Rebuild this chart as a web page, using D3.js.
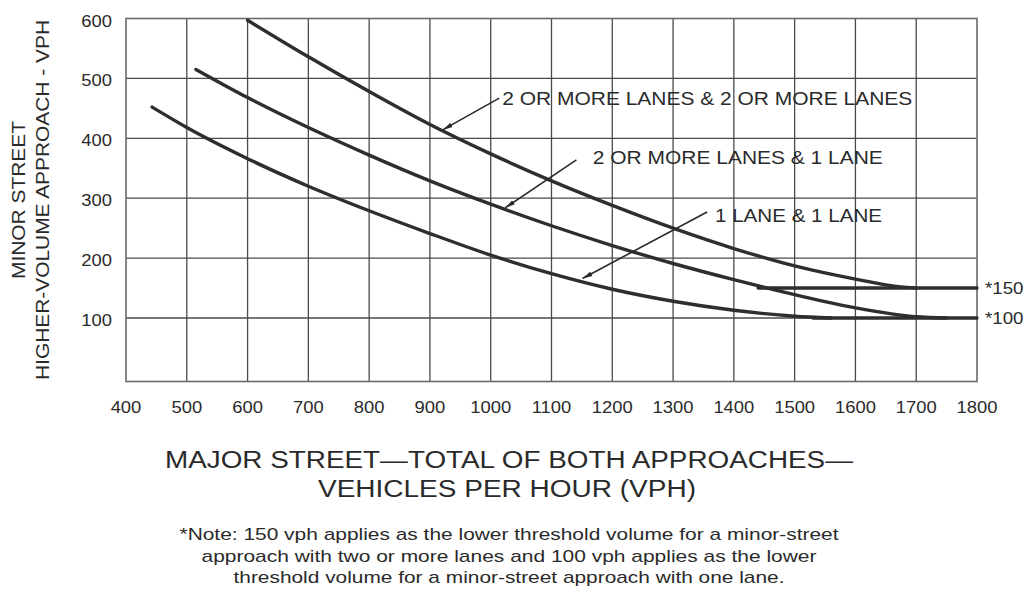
<!DOCTYPE html>
<html>
<head>
<meta charset="utf-8">
<title>Peak hour warrant</title>
<script src="https://cdn.jsdelivr.net/npm/d3@7/dist/d3.min.js"></script>
<style>
  body { margin: 0; background: #fff; }
  svg { display: block; }
  text { font-family: "Liberation Sans", Arial, sans-serif; fill: #2a2a2a; }
</style>
</head>
<body>
<div id="chart"></div>
<script>
// values (major street vph, minor street vph)
var twoAndTwo = [[600, 597], [700, 536], [800, 478], [900, 423], [1000, 374], [1100, 329],
                 [1200, 288], [1300, 250], [1400, 216], [1500, 187], [1600, 165], [1675, 152], [1700, 150]];
var twoAndOne = [[515, 515], [600, 468], [700, 418], [800, 372], [900, 329], [1000, 290], [1100, 254],
                 [1200, 221], [1300, 191], [1400, 164], [1500, 139], [1600, 117], [1700, 102], [1750, 100]];
var oneAndOne = [[443, 452], [500, 418], [600, 366], [700, 320], [800, 279], [900, 241], [1000, 205],
                 [1100, 174], [1200, 148], [1300, 128], [1400, 113], [1500, 103], [1560, 100]];
var floor150 = [[1440, 150], [1800, 150]];
var floor100 = [[1530, 100], [1800, 100]];

var xTicks = [400, 500, 600, 700, 800, 900, 1000, 1100, 1200, 1300, 1400, 1500, 1600, 1700, 1800];
var yTicks = [100, 200, 300, 400, 500, 600];
var floorLabels = ["*150", "*100"];
var floorValues = [150, 100];

// callouts: label text, where the text starts, where the arrow starts and ends (data units)
var calloutText = ["2 OR MORE LANES & 2 OR MORE LANES", "2 OR MORE LANES & 1 LANE", "1 LANE & 1 LANE"];
var calloutAt   = [[1019, 456], [1168, 357], [1369, 260]];
var arrowFrom   = [[1014, 467], [1141, 364], [1356, 277]];
var arrowTo     = [[921, 414], [1024, 284], [1151, 166]];

var width = 1028, height = 592;

var svg = d3.select("#chart").append("svg")
    .attr("width", width)
    .attr("height", height);

var x = d3.scaleLinear().domain([400, 1800]).range([126, 977]);
var y = d3.scaleLinear().domain([-6, 600]).range([381.5, 18.5]);

// stretch text to a given width, like the scanned figure
function fit(sel, w) {
  sel.attr("textLength", w).attr("lengthAdjust", "spacingAndGlyphs");
}
function widen(sel, k) {
  sel.each(function () {
    var len = this.getComputedTextLength();
    d3.select(this).attr("textLength", len * k).attr("lengthAdjust", "spacingAndGlyphs");
  });
}

svg.append("defs").append("marker")
    .attr("id", "head")
    .attr("viewBox", "0 0 10 6")
    .attr("refX", 10)
    .attr("refY", 3)
    .attr("markerWidth", 10)
    .attr("markerHeight", 6)
    .attr("markerUnits", "userSpaceOnUse")
    .attr("orient", "auto")
  .append("path")
    .attr("d", "M0,0.6L10,3L0,5.4Z")
    .attr("fill", "#2a2a2a");

// grid
var grid = svg.append("g").attr("stroke", "#4a4a4a").attr("stroke-width", 1.3);
grid.selectAll("line.v")
    .data(xTicks.slice(1, -1))
  .enter().append("line")
    .attr("x1", function (d) { return x(d); })
    .attr("x2", function (d) { return x(d); })
    .attr("y1", y(600))
    .attr("y2", y(-6));
grid.selectAll("line.h")
    .data(yTicks.slice(0, -1))
  .enter().append("line")
    .attr("x1", x(400))
    .attr("x2", x(1800))
    .attr("y1", function (d) { return y(d); })
    .attr("y2", function (d) { return y(d); });

svg.append("rect")
    .attr("x", x(400))
    .attr("y", y(600))
    .attr("width", x(1800) - x(400))
    .attr("height", y(-6) - y(600))
    .attr("fill", "none")
    .attr("stroke", "#6a6a6a")
    .attr("stroke-width", 1.6);

// tick labels
svg.selectAll("text.xt")
    .data(xTicks)
  .enter().append("text")
    .attr("class", "xt")
    .attr("x", function (d) { return x(d); })
    .attr("y", 413)
    .attr("text-anchor", "middle")
    .style("font-size", "16px")
    .text(function (d) { return d; })
    .call(widen, 1.15);

svg.selectAll("text.yt")
    .data(yTicks)
  .enter().append("text")
    .attr("class", "yt")
    .attr("x", 112)
    .attr("y", function (d) { return y(d) + 8; })
    .attr("text-anchor", "end")
    .style("font-size", "16px")
    .text(function (d) { return d; })
    .call(widen, 1.15);

// curves
var line = d3.line()
    .x(function (d) { return x(d[0]); })
    .y(function (d) { return y(d[1]); })
    .curve(d3.curveMonotoneX);

var curves = svg.append("g")
    .attr("fill", "none")
    .attr("stroke", "#2e2e2e")
    .attr("stroke-width", 3.4)
    .attr("stroke-linecap", "round");

[twoAndTwo, twoAndOne, oneAndOne, floor150, floor100].forEach(function (s) {
  curves.append("path").attr("d", line(s));
});

// floor labels at right
svg.selectAll("text.fl")
    .data(floorValues)
  .enter().append("text")
    .attr("class", "fl")
    .attr("x", 985)
    .attr("y", function (d) { return y(d) + 6; })
    .style("font-size", "17px")
    .text(function (d, i) { return floorLabels[i]; })
    .call(widen, 1.1);

// callouts
svg.selectAll("line.arrow")
    .data(arrowFrom)
  .enter().append("line")
    .attr("x1", function (d) { return x(d[0]); })
    .attr("y1", function (d) { return y(d[1]); })
    .attr("x2", function (d, i) { return x(arrowTo[i][0]); })
    .attr("y2", function (d, i) { return y(arrowTo[i][1]); })
    .attr("stroke", "#2a2a2a")
    .attr("stroke-width", 1.6)
    .attr("marker-end", "url(#head)");

var calloutWidths = [410, 290, 167];
svg.selectAll("text.co")
    .data(calloutText)
  .enter().append("text")
    .attr("class", "co")
    .attr("x", function (d, i) { return x(calloutAt[i][0]); })
    .attr("y", function (d, i) { return y(calloutAt[i][1]); })
    .style("font-size", "19px")
    .text(function (d) { return d; })
    .each(function (d, i) { fit(d3.select(this), calloutWidths[i]); });

// y axis title
var yTitle = svg.append("g").attr("transform", "translate(0,200) rotate(-90)");
yTitle.append("text")
    .attr("x", 0).attr("y", 25)
    .attr("text-anchor", "middle")
    .style("font-size", "18px")
    .text("MINOR STREET")
    .call(fit, 158);
yTitle.append("text")
    .attr("x", 0).attr("y", 49)
    .attr("text-anchor", "middle")
    .style("font-size", "18px")
    .text("HIGHER-VOLUME APPROACH - VPH")
    .call(fit, 360);

// x axis title
svg.append("text")
    .attr("x", 509).attr("y", 468)
    .attr("text-anchor", "middle")
    .style("font-size", "23px")
    .text("MAJOR STREET\u2014TOTAL OF BOTH APPROACHES\u2014")
    .call(fit, 688);
svg.append("text")
    .attr("x", 507).attr("y", 497)
    .attr("text-anchor", "middle")
    .style("font-size", "23px")
    .text("VEHICLES PER HOUR (VPH)")
    .call(fit, 378);

// note
var note = [
  "*Note: 150 vph applies as the lower threshold volume for a minor-street",
  "approach with two or more lanes and 100 vph applies as the lower",
  "threshold volume for a minor-street approach with one lane."
];
var noteWidths = [659, 615, 551];
svg.selectAll("text.note")
    .data(note)
  .enter().append("text")
    .attr("class", "note")
    .attr("x", 509)
    .attr("y", function (d, i) { return 540 + i * 21.5; })
    .attr("text-anchor", "middle")
    .style("font-size", "17px")
    .text(function (d) { return d; })
    .each(function (d, i) { fit(d3.select(this), noteWidths[i]); });
</script>
</body>
</html>
